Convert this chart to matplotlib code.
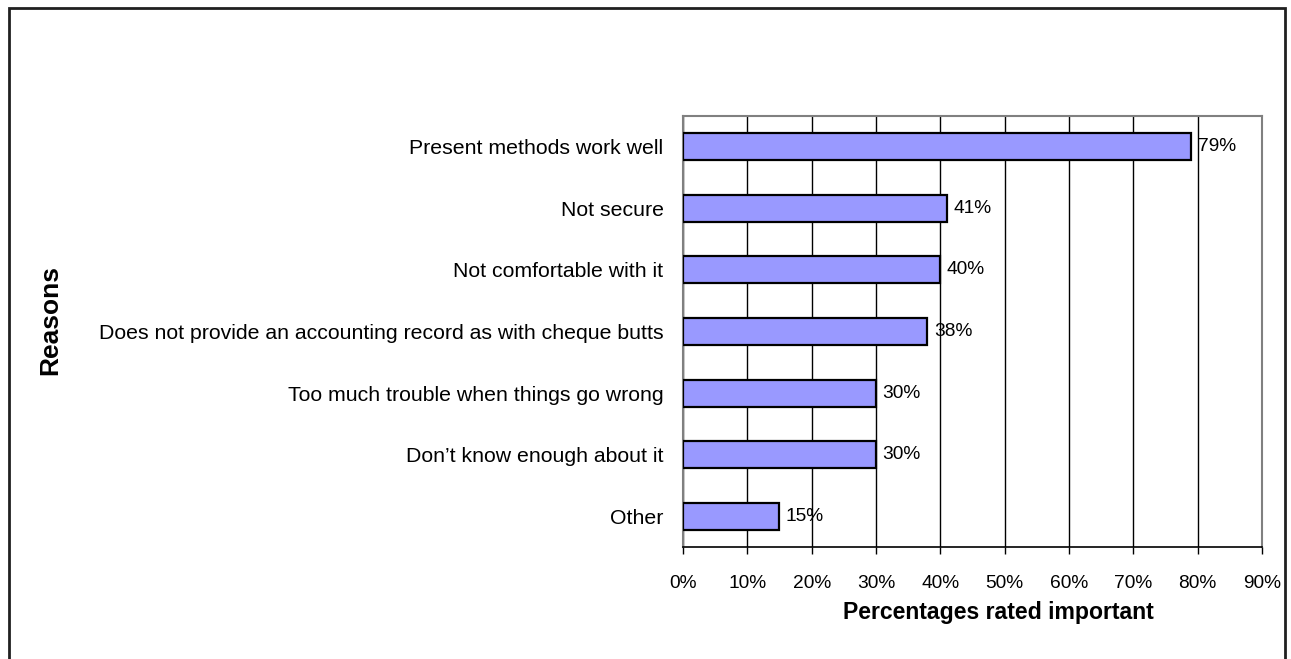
import matplotlib
matplotlib.use("Agg")
import matplotlib.pyplot as plt
from matplotlib.patches import Rectangle
from matplotlib.ticker import MultipleLocator, FuncFormatter

plt.rcParams['font.family'] = ['Liberation Sans', 'DejaVu Sans']

reasons = [
    "Present methods work well",
    "Not secure",
    "Not comfortable with it",
    "Does not provide an accounting record as with cheque butts",
    "Too much trouble when things go wrong",
    "Don\u2019t know enough about it",
    "Other",
]
percentages = [79, 41, 40, 38, 30, 30, 15]

W, H = 1291, 659
fig = plt.figure(figsize=(W / 100, H / 100), dpi=100)
ax = fig.add_axes([683 / W, 1 - 547 / H, (1262 - 683) / W, (547 - 116) / H])

ypos = list(range(len(reasons)))
ax.barh(ypos, percentages, height=0.44, color="#9999FF",
        edgecolor="black", linewidth=1.6, zorder=3)

ax.set_xlim(0, 90)
ax.set_ylim(len(reasons) - 0.5, -0.5)
ax.xaxis.set_major_locator(MultipleLocator(10))
ax.xaxis.set_major_formatter(FuncFormatter(lambda v, p: f"{v:.0f}%"))
ax.grid(axis="x", color="black", linewidth=1.0, zorder=0)
ax.set_axisbelow(True)

ax.set_yticks(ypos)
ax.set_yticklabels(reasons, fontsize=15.3)
ax.tick_params(axis="y", length=0, pad=14)
ax.tick_params(axis="x", length=5, width=1, color="black", labelsize=13.8, pad=15, direction="out")

for side in ("top", "right", "left"):
    ax.spines[side].set_color("#808080")
    ax.spines[side].set_linewidth(1.5)
ax.spines["bottom"].set_color("black")
ax.spines["bottom"].set_linewidth(1.2)

for y, v in zip(ypos, percentages):
    ax.text(v + 1.0, y, f"{v}%", va="center", ha="left", fontsize=13.8)

fig.text(998 / W, 1 - 613 / H, "Percentages rated important",
         ha="center", va="center", fontsize=16.6, fontweight="bold")
fig.text(50 / W, 1 - 320 / H, "Reasons", ha="center", va="center",
         rotation=90, fontsize=19, fontweight="bold")

# outer frame around the chart area
fig.patches.append(Rectangle((8.5 / W, -0.05), (1285 - 8.5) / W, 1.05 - 7.5 / H,
                             transform=fig.transFigure, fill=False,
                             edgecolor="#202020", linewidth=2))

fig.savefig("out.png", dpi=100)
